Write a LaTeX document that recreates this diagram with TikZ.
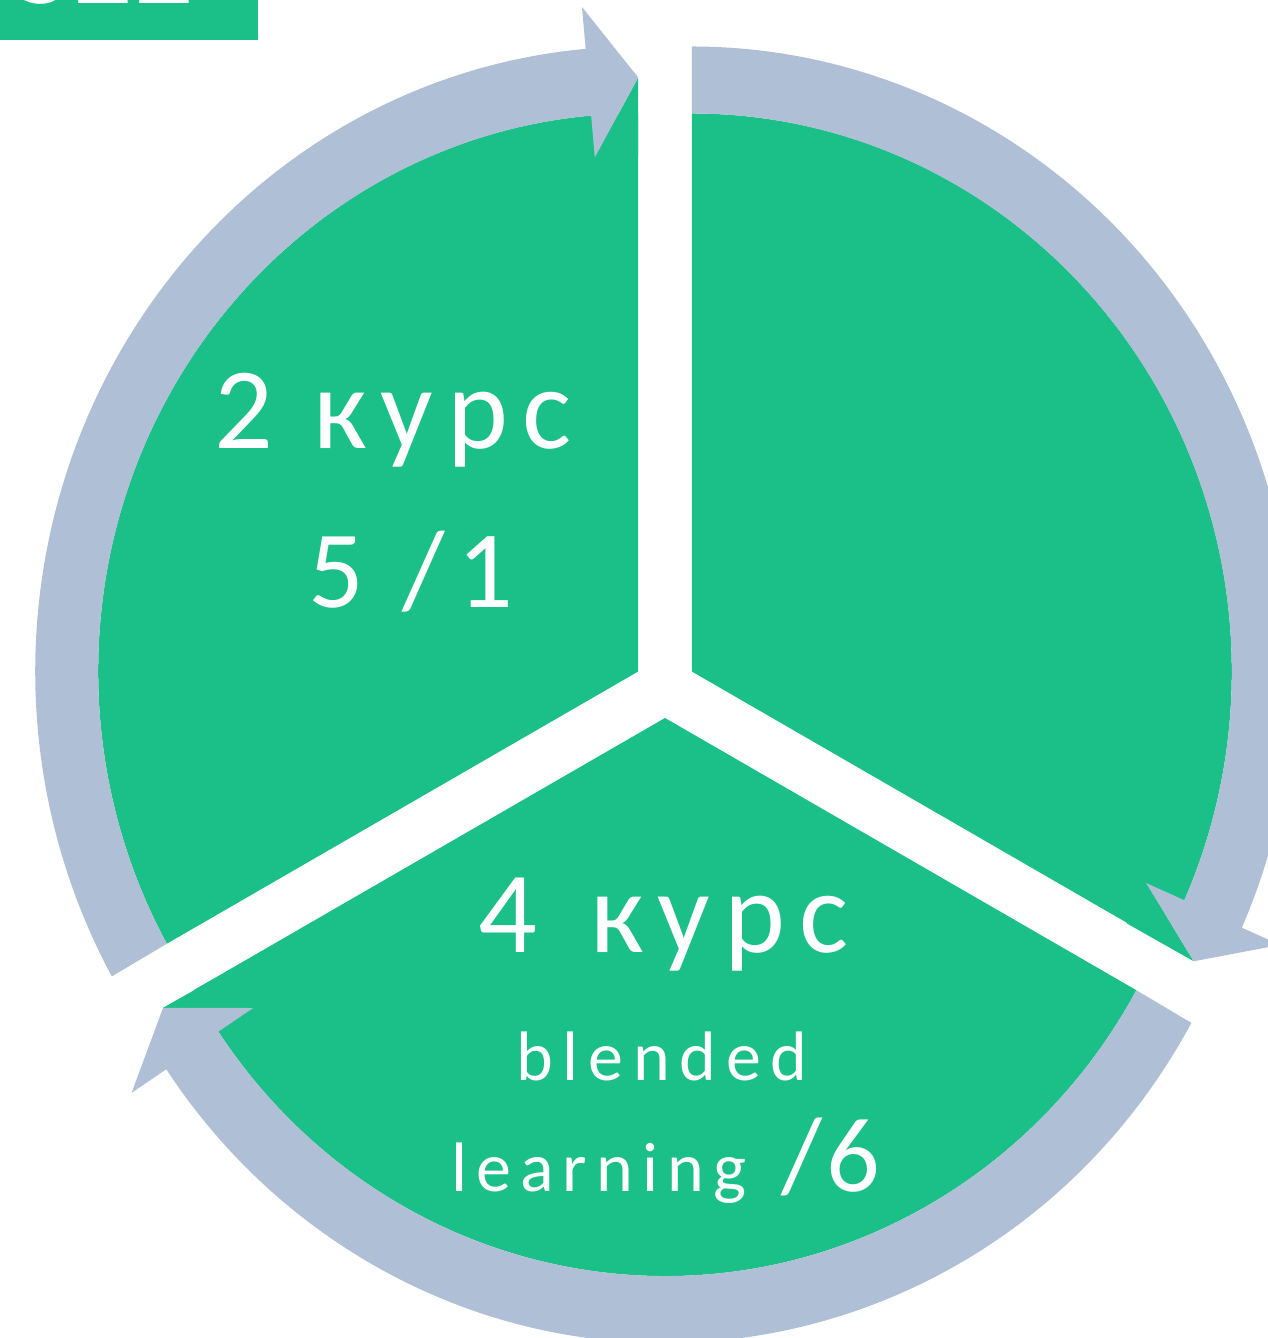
\documentclass[tikz,border=0pt]{standalone}
\usepackage{fontspec}
\setmainfont{Carlito}
\usetikzlibrary{calc}
\definecolor{seggreen}{HTML}{1BBF88}
\definecolor{arrowgrey}{HTML}{AFC0D6}
\tikzset{
  seg/.style={fill=seggreen},
  cyc/.style={fill=arrowgrey},
  bigtxt/.style={text=white,inner sep=0pt,anchor=base west,font=\fontsize{116}{120}\selectfont\addfontfeature{LetterSpace=12}},
  midtxt/.style={text=white,inner sep=0pt,anchor=base west,font=\fontsize{110}{120}\selectfont\addfontfeature{LetterSpace=12}},
  smalltxt/.style={text=white,inner sep=0pt,anchor=base west,font=\fontsize{70}{80}\selectfont\addfontfeature{LetterSpace=14}}
}
% sector: apex, start angle, end angle
\newcommand\cycsector[3]{%
  \fill[seg] (#1) -- ($(#1)+(#2:540pt and 558pt)$)
    arc[start angle=#2,end angle=#3,x radius=540pt,y radius=558pt] -- cycle;}
% green filling behind the arrow tip: apex, tip angle
\newcommand\cyctipfill[2]{%
  \pgfmathsetmacro\hdb{#2+5}%
  \fill[seg] ($(#1)+(#2:575pt and 594pt)$) -- ($(#1)+(\hdb:498pt and 516pt)$)
    -- ($(#1)+(#2:498pt and 516pt)$) -- cycle;}
% arrow: apex, tail angle, tip angle (clockwise)
\newcommand\cycarrow[3]{%
  \pgfmathsetmacro\hda{#3+5}%
  \fill[cyc] ($(#1)+(#2:603pt and 625pt)$)
    arc[start angle=#2,end angle=\hda,x radius=603pt,y radius=625pt]
    -- ($(#1)+(\hda:645pt and 667pt)$)
    -- ($(#1)+(#3:575pt and 594pt)$)
    -- ($(#1)+(\hda:498pt and 516pt)$)
    -- ($(#1)+(\hda:540pt and 558pt)$)
    arc[start angle=\hda,end angle=#2,x radius=540pt,y radius=558pt] -- cycle;}
\begin{document}
\begin{tikzpicture}[x=1pt,y=1pt]
\useasboundingbox (0,0) rectangle (1267,1338);
% title fragment
\fill[seggreen] (0,1298) rectangle (258,1338);
\begin{scope}
  \clip (0,1298) rectangle (258,1338);
  \node[text=white,inner sep=0pt,anchor=base west,font=\fontsize{125}{130}\selectfont\bfseries] (title) at (12,1334.5) {SEE};
\end{scope}
% apexes
\coordinate (A) at (638.2,666.5);
\coordinate (B) at (691.8,666.5);
\coordinate (D) at (665,620);
\cycsector{A}{90}{209.2}
\cycsector{B}{90}{-29.2}
\cycsector{D}{209.2}{330.8}
\cyctipfill{A}{90}
\cyctipfill{B}{-29.2}
\cyctipfill{D}{209.2}
\cycarrow{A}{209.2}{90}
\cycarrow{B}{90}{-29.2}
\cycarrow{D}{330.8}{209.2}
% texts
\node[bigtxt] (t1) at (214,889) {2 курс};
\node[midtxt] (t2) at (308,730) {5 /1};
\node[bigtxt] (t3) at (478,385) {4\kern13pt{} курс};
\node[smalltxt] (t4) at (516,257) {blended};
\node[smalltxt] (t5) at (451,146) {\addfontfeature{LetterSpace=13}learning\kern10pt{} {\fontsize{106}{110}\selectfont\addfontfeature{LetterSpace=4}/6}};
\end{tikzpicture}
\end{document}
